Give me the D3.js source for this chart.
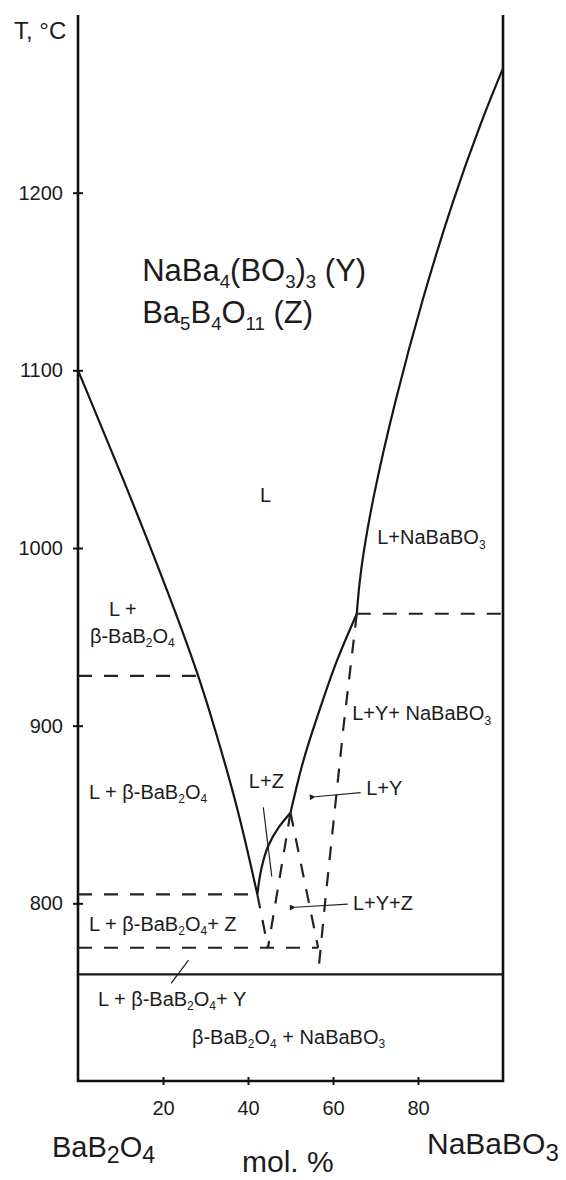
<!DOCTYPE html>
<html>
<head>
<meta charset="utf-8">
<script src="https://cdn.jsdelivr.net/npm/d3@7"></script>
<style>
body { margin: 0; background: #fff; }
text { font-family: "Liberation Sans", Arial, sans-serif; fill: #1c1c1c; }
</style>
</head>
<body>
<svg id="chart"></svg>
<script>
var width = 566, height = 1180;

// tick values
var xTicks = [20, 40, 60, 80];
var yTicks = [800, 900, 1000, 1100, 1200];

// phase boundaries: [mol.% NaBaBO3, T in °C], listed from high T to low T
var liqLeft  = [[0, 1100], [10.5, 1040], [21.9, 971], [28.4, 928], [32, 900], [37.5, 855], [42.2, 805]];
var liqRight = [[100, 1270], [95, 1241], [88.2, 1196], [81, 1140], [74.6, 1083], [69.2, 1027], [66.3, 985], [65.6, 963]];
var liqY     = [[65.6, 963], [61, 937], [57, 910], [53, 880], [50, 851]];
var liqZ     = [[50, 851], [47.3, 843], [44.7, 832], [43.2, 820], [42.2, 805]];
var solidus  = [[0, 760], [100, 760]];
var dashed = [
  [[0, 928], [28.4, 928]],
  [[65.6, 963], [100, 963]],
  [[0, 805], [42.2, 805]],
  [[0, 775], [56.5, 775]],
  [[65.6, 963], [62.5, 900], [58.2, 802], [56.5, 760]],
  [[50, 851], [56.5, 775]],
  [[50, 851], [44.7, 775]],
  [[42.2, 805], [44.7, 775]]
];

// field labels, {..} = subscript
var labels = [
  {t: "L", c: 42.8, T: 1026},
  {t: "L+NaBaBO{3}", c: 70.4, T: 1002},
  {t: "L +", c: 7.3, T: 962},
  {t: "β-BaB{2}O{4}", c: 2.8, T: 946.5},
  {t: "L+Y+ NaBaBO{3}", c: 64.5, T: 903},
  {t: "L + β-BaB{2}O{4}", c: 2.6, T: 858.7},
  {t: "L+Z", c: 40.2, T: 865},
  {t: "L+Y", c: 67.8, T: 861},
  {t: "L+Y+Z", c: 64.7, T: 796},
  {t: "L + β-BaB{2}O{4}+ Z", c: 2.6, T: 784.4},
  {t: "L + β-BaB{2}O{4}+ Y", c: 4.7, T: 742.2},
  {t: "β-BaB{2}O{4} + NaBaBO{3}", c: 26.8, T: 720.8}
];
var titles = [
  {t: "NaBa{4}(BO{3}){3} (Y)", c: 15.1, T: 1150.3},
  {t: "Ba{5}B{4}O{11} (Z)", c: 15.1, T: 1126.6}
];
// leader lines and arrows
var arrows = [
  [[66.5, 862.3], [55.8, 860]],
  [[63.5, 799.6], [51.1, 797.8]]
];
var leaders = [
  [[43.6, 854], [45.6, 815]],
  [[26, 768], [21.9, 755]]
];

var svg = d3.select("#chart").attr("width", width).attr("height", height);

var x = d3.scaleLinear().domain([0, 100]).range([78, 503]);
var y = d3.scaleLinear().domain([700, 1300]).range([1081, 15]);

var line = d3.line().x(function(d) { return x(d[0]); }).y(function(d) { return y(d[1]); });
var curve = d3.line().curve(d3.curveMonotoneY).x(function(d) { return x(d[0]); }).y(function(d) { return y(d[1]); });
var smooth = d3.line().curve(d3.curveBasis).x(function(d) { return x(d[0]); }).y(function(d) { return y(d[1]); });

function rich(sel, str, size, subScale) {
  var parts = str.split(/(\{[^}]*\})/).filter(function(p) { return p.length; });
  var down = false, shift = size * 0.22;
  parts.forEach(function(p) {
    var sub = p[0] === "{";
    var ts = sel.append("tspan").text(sub ? p.slice(1, -1) : p);
    if (sub) {
      ts.attr("font-size", size * subScale).attr("dy", down ? 0 : shift);
      down = true;
    } else {
      ts.attr("dy", down ? -shift : 0);
      down = false;
    }
  });
}

svg.append("defs").append("marker")
  .attr("id", "arr").attr("viewBox", "0 0 10 10")
  .attr("refX", 1).attr("refY", 5)
  .attr("markerWidth", 10).attr("markerHeight", 6)
  .attr("markerUnits", "userSpaceOnUse")
  .attr("orient", "auto-start-reverse")
  .append("path").attr("d", "M0,5L10,0L10,10Z").attr("fill", "#222");

// axes
var yAxis = d3.axisLeft(y).tickValues(yTicks).tickSize(5).tickPadding(10).tickFormat(d3.format("d"));
var gy = svg.append("g").attr("transform", "translate(" + x(0) + ",0)").call(yAxis);
gy.select(".domain").remove();
gy.selectAll(".tick line").attr("x1", 5).attr("x2", -5).attr("stroke", "#111").attr("stroke-width", 2);
gy.selectAll(".tick text").attr("font-size", 20).attr("font-family", "Liberation Sans, Arial, sans-serif").attr("fill", "#1c1c1c");

var xAxis = d3.axisBottom(x).tickValues(xTicks).tickSize(3).tickPadding(17);
var gx = svg.append("g").attr("transform", "translate(0," + y(700) + ")").call(xAxis);
gx.select(".domain").remove();
gx.selectAll(".tick line").attr("y1", -4).attr("y2", 4).attr("stroke", "#111").attr("stroke-width", 2);
gx.selectAll(".tick text").attr("font-size", 20).attr("font-family", "Liberation Sans, Arial, sans-serif").attr("fill", "#1c1c1c");

// frame: left, bottom, right
svg.append("path")
  .attr("d", line([[0, 1300], [0, 700], [100, 700], [100, 1300]]))
  .attr("fill", "none").attr("stroke", "#111").attr("stroke-width", 2.6);

// solid boundaries
[liqLeft, liqRight].forEach(function(d) {
  svg.append("path").attr("d", smooth(d))
    .attr("fill", "none").attr("stroke", "#161616").attr("stroke-width", 2.2);
});
[liqY, liqZ].forEach(function(d) {
  svg.append("path").attr("d", curve(d))
    .attr("fill", "none").attr("stroke", "#161616").attr("stroke-width", 2.2);
});
svg.append("path").attr("d", line(solidus))
  .attr("fill", "none").attr("stroke", "#161616").attr("stroke-width", 2.2);

// dashed boundaries
dashed.forEach(function(d) {
  svg.append("path").attr("d", line(d))
    .attr("fill", "none").attr("stroke", "#222").attr("stroke-width", 2.2)
    .attr("stroke-dasharray", "14,12");
});

// pointers
arrows.forEach(function(d) {
  svg.append("path").attr("d", line(d))
    .attr("fill", "none").attr("stroke", "#222").attr("stroke-width", 1.2)
    .attr("marker-end", "url(#arr)");
});
leaders.forEach(function(d) {
  svg.append("path").attr("d", line(d))
    .attr("fill", "none").attr("stroke", "#222").attr("stroke-width", 1.2);
});

// field labels
labels.forEach(function(d) {
  var t = svg.append("text").attr("x", x(d.c)).attr("y", y(d.T)).attr("font-size", 20);
  rich(t, d.t, 20, 0.6);
});
titles.forEach(function(d) {
  var t = svg.append("text").attr("x", x(d.c)).attr("y", y(d.T)).attr("font-size", 31);
  rich(t, d.t, 31, 0.6);
});

// axis titles
svg.append("text").attr("x", 14).attr("y", 39).attr("font-size", 24).text("T, °C");
var tl = svg.append("text").attr("x", 52).attr("y", 1157).attr("font-size", 29);
rich(tl, "BaB{2}O{4}", 29, 0.8);
var tr = svg.append("text").attr("x", 427).attr("y", 1154).attr("font-size", 30);
rich(tr, "NaBaBO{3}", 30, 0.8);
svg.append("text").attr("x", 242).attr("y", 1172).attr("font-size", 30).text("mol. %");
</script>
</body>
</html>
